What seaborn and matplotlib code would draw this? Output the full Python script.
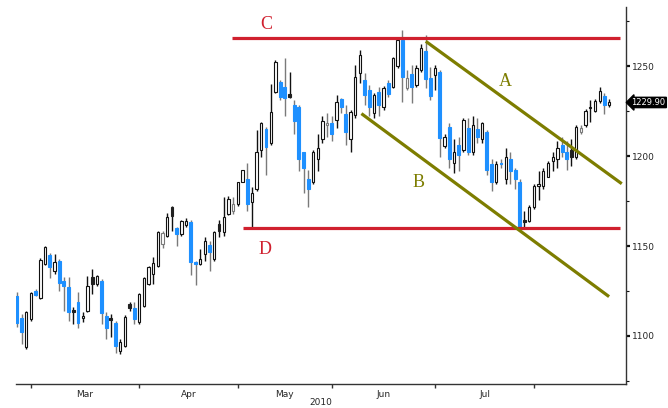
import numpy as np
import pandas as pd
import matplotlib
matplotlib.use('Agg')
import matplotlib.pyplot as plt
import seaborn as sns

# daily candles, 24 Feb 2010 - 24 Aug 2010
opens = [1122.2, 1109.8, 1093.7, 1109.3, 1125.0, 1120.9, 1139.8, 1144.8, 1135.9, 1141.5,
         1130.4, 1127.1, 1114.3, 1118.7, 1109.8, 1113.7, 1132.6, 1128.7, 1130.4, 1110.9,
         1109.8, 1107.1, 1091.5, 1094.3, 1117.6, 1115.4, 1107.6, 1116.5, 1128.7, 1134.3,
         1138.7, 1150.9, 1155.4, 1171.5, 1159.8, 1156.5, 1161.5, 1163.2, 1140.9, 1139.8,
         1145.4, 1150.4, 1142.6, 1162.1, 1157.6, 1167.6, 1169.3, 1173.2, 1185.9, 1187.1,
         1174.8, 1181.5, 1203.7, 1215.4, 1207.1, 1235.9, 1241.5, 1238.7, 1234.8, 1228.7,
         1227.6, 1202.1, 1187.1, 1185.9, 1198.2, 1209.3, 1217.6, 1218.2, 1220.4, 1232.1,
         1223.7, 1209.3, 1223.2, 1246.5, 1242.6, 1237.1, 1224.3, 1235.9, 1227.1, 1240.9,
         1238.7, 1250.4, 1264.8, 1238.2, 1245.9, 1239.8, 1248.2, 1258.7, 1243.7, 1245.4,
         1247.1, 1205.9, 1216.5, 1196.5, 1206.5, 1203.7, 1215.9, 1202.1, 1215.4, 1209.3,
         1213.7, 1195.4, 1185.4, 1195.9, 1187.6, 1198.7, 1192.1, 1185.4, 1164.8, 1163.7,
         1171.5, 1183.2, 1183.7, 1188.7, 1197.1, 1198.2, 1206.5, 1202.1, 1203.7, 1199.8,
         1213.2, 1217.1, 1226.8, 1225.4, 1230.9, 1233.7, 1228.7]
highs = [1124.3, 1112.1, 1113.7, 1124.3, 1125.9, 1143.2, 1149.9, 1145.9, 1145.4, 1142.6,
         1132.6, 1132.6, 1115.9, 1124.3, 1113.2, 1133.2, 1137.1, 1133.7, 1131.5, 1113.2,
         1112.1, 1108.2, 1098.2, 1111.5, 1118.7, 1118.7, 1123.7, 1132.6, 1138.7, 1143.7,
         1158.2, 1158.2, 1168.2, 1172.1, 1160.9, 1164.3, 1165.9, 1164.3, 1141.5, 1148.2,
         1154.8, 1152.6, 1158.2, 1164.8, 1177.1, 1177.6, 1177.1, 1185.9, 1192.6, 1196.5,
         1182.6, 1214.8, 1219.3, 1216.5, 1240.4, 1253.7, 1242.6, 1254.8, 1247.1, 1231.5,
         1228.7, 1202.6, 1192.6, 1203.7, 1212.1, 1222.1, 1224.3, 1222.1, 1234.3, 1232.6,
         1228.7, 1225.9, 1250.9, 1259.3, 1246.5, 1239.8, 1235.4, 1238.7, 1239.3, 1242.6,
         1255.4, 1266.5, 1270.4, 1248.2, 1250.9, 1250.9, 1262.6, 1267.6, 1249.8, 1250.9,
         1248.2, 1212.1, 1218.7, 1209.3, 1210.9, 1221.5, 1221.5, 1222.1, 1221.5, 1219.3,
         1214.8, 1198.2, 1197.1, 1198.2, 1204.8, 1202.1, 1193.2, 1187.1, 1169.3, 1172.6,
         1184.3, 1191.5, 1193.7, 1197.1, 1202.6, 1208.2, 1210.9, 1208.2, 1209.3, 1217.6,
         1217.6, 1226.5, 1231.5, 1232.1, 1238.7, 1235.4, 1232.1]
lows = [1104.8, 1095.4, 1092.6, 1108.2, 1122.1, 1120.4, 1139.3, 1132.1, 1134.3, 1124.8,
        1113.7, 1108.2, 1106.5, 1104.3, 1107.6, 1113.2, 1123.2, 1127.6, 1106.5, 1098.2,
        1099.3, 1090.4, 1089.8, 1093.7, 1113.7, 1106.5, 1106.5, 1115.9, 1128.2, 1128.7,
        1138.2, 1148.7, 1154.8, 1158.2, 1149.9, 1155.9, 1160.4, 1133.7, 1128.2, 1139.3,
        1141.5, 1135.9, 1141.5, 1154.8, 1155.4, 1167.1, 1167.6, 1172.1, 1185.4, 1169.3,
        1160.4, 1180.4, 1199.3, 1189.8, 1206.5, 1235.4, 1231.5, 1222.1, 1232.6, 1212.1,
        1191.5, 1179.8, 1171.5, 1184.8, 1191.5, 1207.6, 1210.9, 1208.2, 1215.9, 1224.3,
        1206.5, 1202.1, 1221.5, 1240.9, 1228.7, 1222.1, 1221.5, 1222.1, 1225.9, 1233.2,
        1238.2, 1249.3, 1230.4, 1237.1, 1229.8, 1238.7, 1247.1, 1238.2, 1231.5, 1237.1,
        1199.8, 1204.3, 1193.7, 1190.9, 1191.5, 1202.6, 1200.9, 1200.9, 1207.6, 1207.6,
        1189.8, 1180.4, 1184.3, 1193.7, 1184.3, 1184.3, 1181.5, 1159.3, 1160.9, 1163.2,
        1170.4, 1175.9, 1181.5, 1188.2, 1191.5, 1193.7, 1199.8, 1192.6, 1194.3, 1198.2,
        1212.1, 1216.5, 1219.3, 1224.8, 1229.8, 1223.7, 1227.6]
closes = [1107.4, 1102.1, 1113.2, 1123.7, 1122.8, 1142.1, 1149.3, 1138.2, 1140.9, 1129.3,
          1127.6, 1113.2, 1113.2, 1107.1, 1110.9, 1127.6, 1128.7, 1133.2, 1112.6, 1104.3,
          1108.7, 1094.3, 1096.5, 1110.4, 1115.4, 1109.3, 1123.2, 1132.1, 1138.2, 1140.4,
          1157.6, 1157.1, 1166.0, 1166.5, 1156.5, 1163.7, 1163.7, 1140.9, 1139.8, 1142.6,
          1152.6, 1146.5, 1157.6, 1158.2, 1166.0, 1176.0, 1173.2, 1185.4, 1192.1, 1173.7,
          1179.8, 1202.1, 1218.2, 1205.4, 1224.8, 1252.6, 1233.2, 1232.6, 1233.2, 1219.8,
          1198.2, 1193.7, 1181.5, 1202.6, 1204.3, 1219.8, 1218.7, 1212.1, 1230.4, 1227.1,
          1213.7, 1224.8, 1244.3, 1256.5, 1234.3, 1227.1, 1234.3, 1228.7, 1238.2, 1234.8,
          1254.8, 1264.8, 1244.3, 1243.7, 1238.7, 1249.3, 1260.4, 1243.2, 1233.7, 1249.3,
          1210.4, 1210.9, 1198.2, 1202.6, 1200.4, 1220.4, 1202.1, 1217.6, 1210.9, 1218.2,
          1192.1, 1185.4, 1195.9, 1195.4, 1199.3, 1191.5, 1187.1, 1160.9, 1163.2, 1171.5,
          1183.2, 1184.8, 1191.5, 1196.5, 1199.3, 1204.8, 1202.1, 1198.2, 1199.3, 1216.5,
          1215.9, 1225.4, 1227.6, 1230.9, 1236.5, 1228.7, 1229.9]

holidays = ['2010-04-02', '2010-05-31', '2010-07-05']

# hand-drawn levels and channel: (start day, end day, start price, end price)
level_c = (45.7, 128.3, 1265.5, 1265.5)
level_d = (48.0, 128.4, 1160.0, 1160.0)
channel_a = (87.0, 128.7, 1263.9, 1184.7)
channel_b = (73.3, 126.0, 1223.7, 1121.9)

sns.set_theme(style='white')
plt.rcParams['font.family'] = ['DejaVu Sans']

dates = pd.bdate_range('2010-02-24', '2010-08-24', freq='C', holidays=holidays)
df = pd.DataFrame({'date': dates, 'open': opens, 'high': highs,
                   'low': lows, 'close': closes})
df['x'] = np.arange(len(df))
df['prev'] = df['close'].shift(1).fillna(df['open'])

BLUE = '#1e90ff'
face, edge, wick, width = [], [], [], []
for _, r in df.iterrows():
    up_day = r['close'] >= r['prev']
    if r['close'] < r['open']:
        col = BLUE if not up_day else '#202020'
        face.append(col)
        edge.append(col)
        wick.append('#7a7a7a' if not up_day else '#111111')
        width.append(0.62)
    else:
        face.append('white')
        edge.append('#111111' if up_day else '#7a7a7a')
        wick.append('#111111' if up_day else '#7a7a7a')
        width.append(0.48)

fig = plt.figure(figsize=(6.68, 4.08), dpi=100)
ax = fig.add_axes([16 / 668, 24 / 408, 610 / 668, 377 / 408])

ax.vlines(df['x'], df['low'], df['high'], colors=wick, lw=1.0, zorder=2)
body_lo = np.minimum(df['open'], df['close'])
body_h = np.maximum(np.abs(df['close'] - df['open']), 0.8)
ax.bar(df['x'], body_h, bottom=body_lo, width=width, color=face,
       edgecolor=edge, linewidth=0.8, zorder=3)

# support / resistance and channel lines
red = '#d0202e'
olive = '#7d7d00'
for seg, col in [(level_c, red), (level_d, red), (channel_a, olive), (channel_b, olive)]:
    ax.plot([seg[0], seg[1]], [seg[2], seg[3]], color=col, lw=2.3,
            solid_capstyle='butt', zorder=4)

lab = dict(family=['Liberation Serif', 'DejaVu Serif'], fontsize=13,
           ha='center', va='center', zorder=5)
ax.text(53.0, 1273.2, 'C', color=red, **lab)
ax.text(52.8, 1148.2, 'D', color=red, **lab)
ax.text(104.0, 1241.5, 'A', color=olive, **lab)
ax.text(85.5, 1185.4, 'B', color=olive, **lab)

ax.set_xlim(-0.2, 129.6)
ax.set_ylim(1073.3, 1283)

# month ticks at the first trading day, names centred in between
month_start = df.groupby(df['date'].dt.to_period('M'))['x'].min().values[1:]
ax.set_xticks(month_start)
ax.set_xticklabels([])
centres = (month_start[:-1] + month_start[1:]) / 2
ax.set_xticks(centres, minor=True)
ax.set_xticklabels([d.strftime('%b') for d in df['date'].iloc[month_start[:-1]]],
                   minor=True, fontsize=6.5)
ax.tick_params(axis='x', which='major', direction='out', length=3, width=1,
               color='#333333', bottom=True)
ax.tick_params(axis='x', which='minor', length=0, pad=4, bottom=True)
ax.text(0.5, -0.05, '2010', transform=ax.transAxes, ha='center', va='center',
        fontsize=6.5)

ax.yaxis.tick_right()
ax.set_yticks([1100, 1150, 1200, 1250])
ax.set_yticks([1075, 1125, 1175, 1225, 1275], minor=True)
ax.tick_params(axis='y', which='major', direction='out', length=3, width=1.6,
               labelsize=6.5, pad=1, right=True, color='#111111')
ax.tick_params(axis='y', which='minor', direction='out', length=2, width=0.8,
               right=True, color='#111111')

for s in ['left', 'top']:
    ax.spines[s].set_visible(False)
for s in ['right', 'bottom']:
    ax.spines[s].set_color('#333333')
    ax.spines[s].set_linewidth(1.0)

last = df['close'].iloc[-1]
ax.annotate(f'{last:.2f}', xy=(1.0, last), xycoords=('axes fraction', 'data'),
            xytext=(4, 0), textcoords='offset points', ha='left', va='center',
            fontsize=6, color='white',
            bbox=dict(boxstyle='larrow,pad=0.08', fc='black', ec='black'))

fig.savefig('out.png', dpi=100)
